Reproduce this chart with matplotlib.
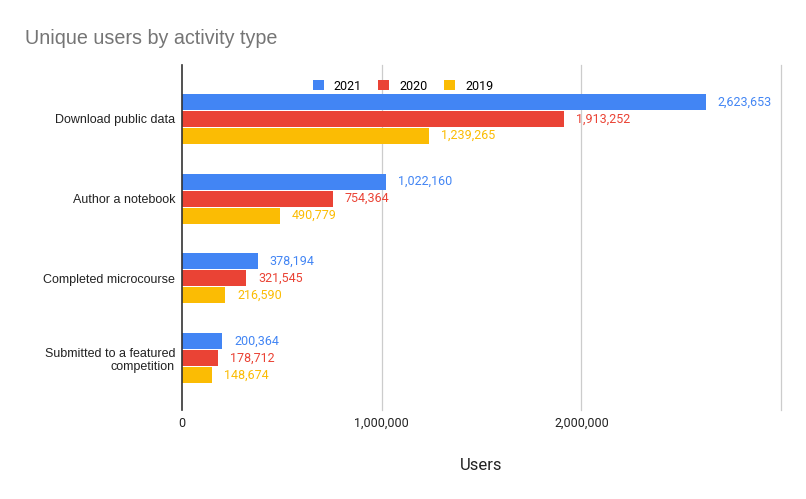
import matplotlib
matplotlib.use("Agg")
import matplotlib.pyplot as plt
import numpy as np
from matplotlib.patches import Patch

categories = ["Download public data", "Author a notebook", "Completed microcourse",
              "Submitted to a featured\ncompetition"]
series_names = ["2021", "2020", "2019"]
v2021 = [2623653, 1022160, 378194, 200364]
v2020 = [1913252, 754364, 321545, 178712]
v2019 = [1239265, 490779, 216590, 148674]
colors = ["#4285F4", "#EA4335", "#FBBC04"]
xticks = [0, 1000000, 2000000]
xtick_labels = ["0", "1,000,000", "2,000,000"]
gridlines = [1000000, 2000000, 3000000]

fig = plt.figure(figsize=(8.06, 4.99), dpi=100)
ax = fig.add_axes([182/806, 1-410/499, (781-182)/806, (410-65)/499])

y = np.arange(len(categories))
h = 0.2
off = 0.212
for i, (vals, c, name) in enumerate(zip([v2021, v2020, v2019], colors, series_names)):
    pos = y + (i - 1) * off
    ax.barh(pos, vals, height=h, color=c, label=name, zorder=3)
    for p, v in zip(pos, vals):
        ax.text(v + 60000, p, f"{v:,}", color=c, va="center", ha="left",
                fontsize=9, family="Roboto")

for g in gridlines:
    ax.axvline(g, color="#cccccc", lw=0.9, zorder=0, clip_on=False)

ax.set_xlim(0, 3000000)
ax.set_ylim(3.65, -0.675)
ax.set_yticks(y)
ax.set_yticklabels(categories, fontsize=9, family="Liberation Sans", color="#222222")
ax.set_xticks(xticks)
ax.set_xticklabels(xtick_labels, fontsize=9, family="Roboto", color="#222222")
ax.tick_params(axis="both", which="both", length=0)
ax.tick_params(axis="x", pad=5)
ax.tick_params(axis="y", pad=5)
for s in ["top", "right", "bottom"]:
    ax.spines[s].set_visible(False)
ax.spines["left"].set_color("#333333")
ax.spines["left"].set_linewidth(1.2)
ax.spines["left"].set_zorder(4)

ax.set_xlabel("Users", fontsize=12, family="Roboto", color="#222222", labelpad=20)

fig.text(25/806, 1-38/499, "Unique users by activity type", fontsize=14.2,
         color="#757575", family="Liberation Sans", va="center", ha="left")

handles = [Patch(facecolor=c, label=n) for c, n in zip(colors, series_names)]
fig.legend(handles=handles, loc="center", bbox_to_anchor=(0.5, 1-86/499), ncol=3,
           frameon=False, prop={"family": "Roboto", "size": 9},
           handlelength=0.9, handleheight=0.9, columnspacing=1.3, handletextpad=0.8)

fig.savefig("out.png", dpi=100)
